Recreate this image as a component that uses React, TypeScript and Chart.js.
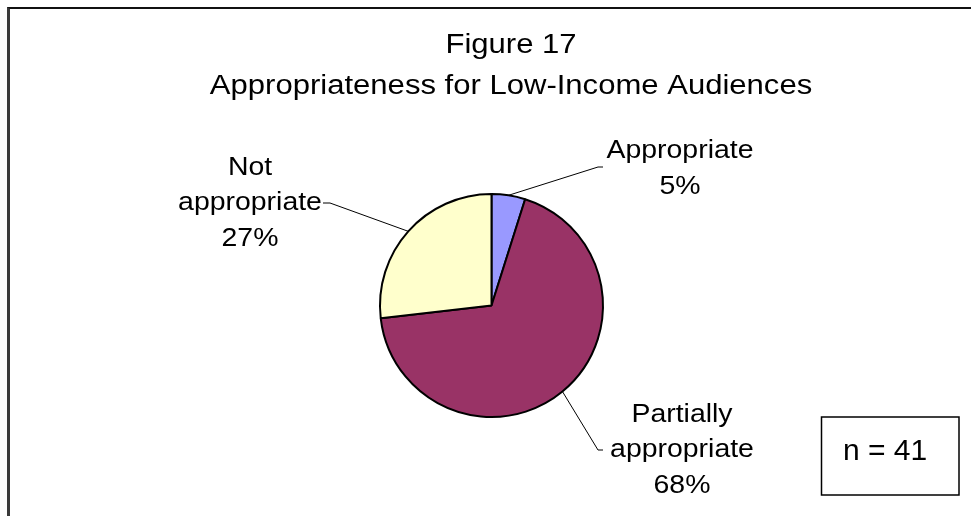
import React, { useEffect, useRef } from "react";
import { Chart, registerables } from "chart.js";

Chart.register(...registerables);

const titleLines = ["Figure 17", "Appropriateness for Low-Income Audiences"];
const categories = [["Appropriate"], ["Partially", "appropriate"], ["Not", "appropriate"]];
const counts = [2, 28, 11];
const sliceColors = ["#9999FF", "#993366", "#FFFFCC"];
const sampleNote = "n = 41";

// leader line layout per slice: elbow offset from pie centre, horizontal tail, text offset from tail end
const leaderLayout = [
  { ex: 106.5, ey: -138.5, tail: 5, tx: 77, ty: 2 },
  { ex: 106.5, ey: 144.5, tail: 5, tx: 79, ty: 0 },
  { ex: -161.5, ey: -102.5, tail: -7, tx: -73, ty: 0 },
];

const FONT = "'Liberation Sans', Arial, sans-serif";

const overlayPlugin = {
  id: "overlay",
  afterDraw(chart: any) {
    const ctx: CanvasRenderingContext2D = chart.ctx;
    const meta = chart.getDatasetMeta(0);
    const total = counts.reduce((a, b) => a + b, 0);
    ctx.save();
    ctx.fillStyle = "#000";
    // title
    ctx.font = `27px ${FONT}`;
    ctx.textAlign = "center";
    ctx.textBaseline = "alphabetic";
    const titleBase = [53, 94];
    titleLines.forEach((t, i) => {
      ctx.save();
      ctx.translate(511, titleBase[i]);
      ctx.scale(1.15, 1);
      ctx.fillText(t, 0, 0);
      ctx.restore();
    });
    // labels
    meta.data.forEach((arc: any, i: number) => {
      const p = arc.getProps(["x", "y", "startAngle", "endAngle", "outerRadius"], true);
      const mid = (p.startAngle + p.endAngle) / 2;
      const sx = p.x + Math.cos(mid) * p.outerRadius;
      const sy = p.y + Math.sin(mid) * p.outerRadius;
      const L = leaderLayout[i];
      const exx = p.x + L.ex;
      const eyy = p.y + L.ey;
      ctx.strokeStyle = "#000";
      ctx.lineWidth = 1;
      ctx.beginPath();
      ctx.moveTo(sx, sy);
      ctx.lineTo(exx, eyy);
      ctx.lineTo(exx + L.tail, eyy);
      ctx.stroke();
      const pct = Math.round((counts[i] / total) * 100) + "%";
      const lines = [...categories[i], pct];
      const lh = 35.5;
      const cx = exx + L.tail + L.tx;
      const cy = eyy + L.ty;
      ctx.font = `25.5px ${FONT}`;
      ctx.textAlign = "center";
      ctx.textBaseline = "middle";
      lines.forEach((ln, k) => {
        const y = cy + (k - (lines.length - 1) / 2) * lh;
        ctx.save();
        ctx.translate(cx, y);
        ctx.scale(1.115, 1);
        ctx.fillText(ln, 0, 0);
        ctx.restore();
      });
    });
    // n box
    ctx.lineWidth = 1.5;
    ctx.strokeStyle = "#000";
    ctx.strokeRect(821.5, 417, 137.5, 78);
    ctx.font = `30px ${FONT}`;
    ctx.textAlign = "center";
    ctx.textBaseline = "alphabetic";
    ctx.fillText(sampleNote, 885, 460);
    ctx.restore();
  },
};

export default function App() {
  const ref = useRef<HTMLCanvasElement>(null);
  useEffect(() => {
    if (!ref.current) return;
    const chart = new Chart(ref.current, {
      type: "pie",
      data: {
        labels: categories.map((c) => c.join(" ")),
        datasets: [
          {
            data: counts,
            backgroundColor: sliceColors,
            borderColor: "#000",
            borderWidth: 2,
            radius: 111.5,
          } as any,
        ],
      },
      options: {
        responsive: false,
        animation: false,
        layout: { padding: { left: 380, right: 368, top: 194, bottom: 99 } },
        plugins: { legend: { display: false }, tooltip: { enabled: false }, title: { display: false } },
      },
      plugins: [overlayPlugin],
    });
    return () => chart.destroy();
  }, []);
  return (
    <div style={{ position: "fixed", left: 0, top: 0, width: 971, height: 516, background: "#fff", overflow: "hidden" }}>
      <div
        style={{
          position: "absolute",
          left: 7,
          top: 7,
          width: 1100,
          height: 700,
          borderLeft: "3px solid #3a3a3a",
          borderTop: "2px solid #111",
        }}
      />
      <canvas ref={ref} width={971} height={516} style={{ position: "absolute", left: 0, top: 0 }} />
    </div>
  );
}
